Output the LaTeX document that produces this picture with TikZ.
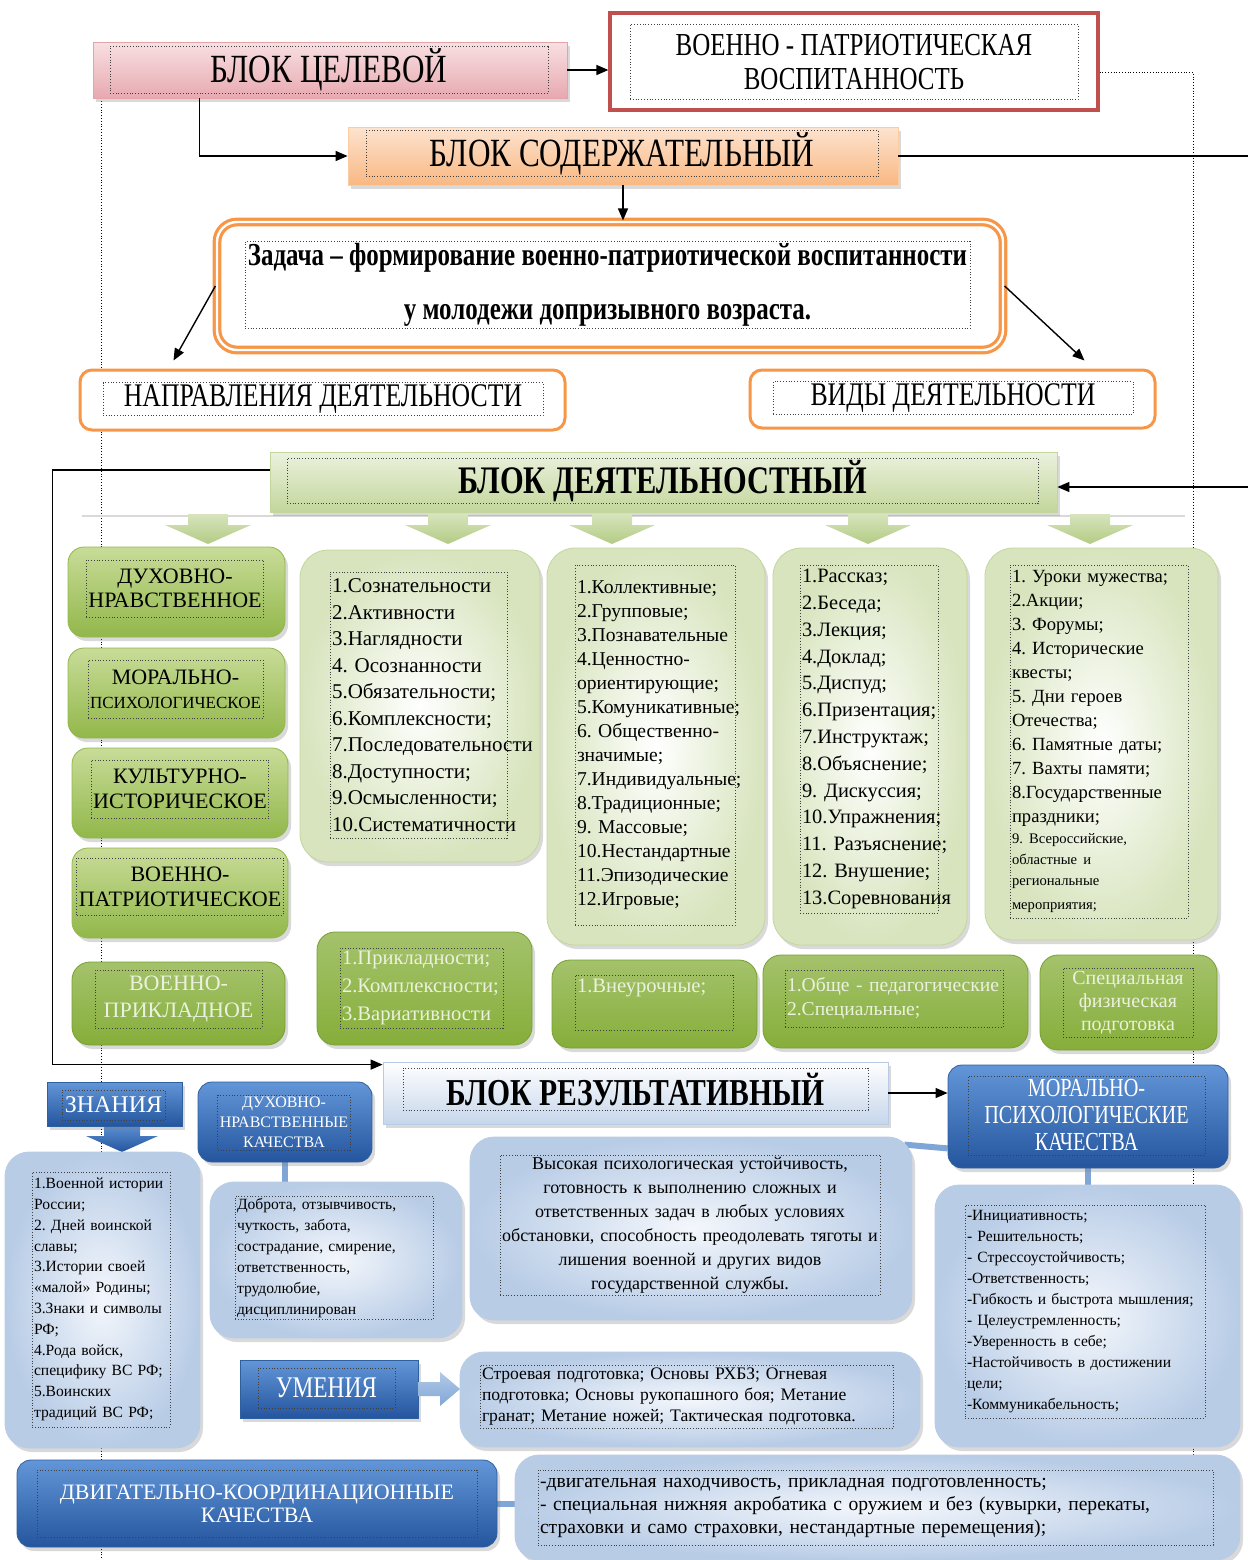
\documentclass[tikz,border=0pt]{standalone}
\usepackage{fontspec}
\setmainfont{Liberation Serif}
\newfontfamily\narrowfont[FakeStretch=0.78]{Liberation Serif}
\usetikzlibrary{arrows, arrows.meta}
\usetikzlibrary{calc}
\usetikzlibrary{shadows}
\usetikzlibrary{backgrounds}

\newcommand{\setfs}[2]{\fontsize{#1}{#2}\selectfont}

\definecolor{pinktop}{HTML}{F8E0E2}
\definecolor{pinkbot}{HTML}{E7A9B0}
\definecolor{pinkline}{HTML}{E3A3AA}
\definecolor{redline}{HTML}{C0504D}
\definecolor{orangeline}{HTML}{F79646}
\definecolor{orangetop}{HTML}{FDE3CF}
\definecolor{orangebot}{HTML}{F9B882}
\definecolor{greenpale}{HTML}{EBF1DE}
\definecolor{greenlight}{HTML}{D7E4BD}
\definecolor{greenmid}{HTML}{B3CB84}
\definecolor{greenline}{HTML}{C3D69B}
\definecolor{greentop}{HTML}{C8DC98}
\definecolor{greenbot}{HTML}{92B74A}
\definecolor{greendark}{HTML}{86AE3A}
\definecolor{greendeep}{HTML}{76A030}
\definecolor{bluetop}{HTML}{6396D8}
\definecolor{bluebot}{HTML}{24559E}
\definecolor{blueline}{HTML}{2E5F9F}
\definecolor{bluepale}{HTML}{F4F7FC}
\definecolor{bluelight}{HTML}{B8CCE6}
\definecolor{bluebar}{HTML}{7FA6D6}

\begin{document}
\frenchspacing
\begin{tikzpicture}[x=0.5pt, y=-0.5pt,
    txtframe/.style={draw=black!75, densely dotted, line width=0.4pt, inner sep=1pt},
    softshadow/.style={drop shadow={opacity=0.3, shadow xshift=1.5pt, shadow yshift=-2pt}},
    goalbox/.style={draw=pinkline, top color=pinktop, bottom color=pinkbot, softshadow},
    redbox/.style={draw=redline, line width=1.6pt, fill=white},
    orgbox/.style={draw=orangeline!50, top color=orangetop, bottom color=orangebot, softshadow},
    taskbox/.style={rounded corners=10pt, draw=orangeline, line width=1.6pt, double=white, double distance=1.2pt, fill=white},
    dirbox/.style={rounded corners=6pt, draw=orangeline, line width=1.5pt, fill=white},
    actbox/.style={draw=greenline, top color=greenpale, bottom color=greenline, softshadow},
    leafbox/.style={rounded corners=8pt, draw=greenbot, top color=greentop, bottom color=greenbot, softshadow},
    listbox/.style={rounded corners=14pt, draw=greenline, inner color=white, outer color=greenlight, softshadow},
    deepbox/.style={rounded corners=9pt, draw=greendeep, top color=greendark!75, bottom color=greendark, softshadow},
    resbox/.style={draw=bluelight, top color=white, bottom color=bluelight!80, softshadow},
    bluebox/.style={rounded corners=7pt, draw=blueline, top color=bluetop, bottom color=bluebot, softshadow},
    flagbox/.style={draw=blueline, top color=bluetop, bottom color=bluebot, softshadow},
    paleblue/.style={rounded corners=12pt, draw=bluelight, inner color=bluepale, outer color=bluelight, softshadow},
    arr/.style={-{Triangle[length=6pt, width=5pt]}, line width=0.7pt},
    linkbar/.style={draw=bluebar, line width=3pt}]

  \useasboundingbox (0,0) rectangle (1248,1560);

  % --- target block
  \node[goalbox, minimum width=237pt, minimum height=28pt] (goal) at (330,70) {};
  \node[txtframe, minimum width=219pt, minimum height=18pt, font=\narrowfont\setfs{20}{22}] (goaltxt) at (329,70) {БЛОК ЦЕЛЕВОЙ};
  \node[redbox, minimum width=244pt, minimum height=48.5pt] (patr) at (854,61.5) {};
  \node[txtframe, minimum width=224pt, minimum height=37.5pt, align=center, font=\narrowfont\setfs{16}{17}] (patrtxt) at (854,62) {ВОЕННО - ПАТРИОТИЧЕСКАЯ\\ВОСПИТАННОСТЬ};

  % --- content block
  \node[orgbox, minimum width=275pt, minimum height=29pt] (content) at (623,156) {};
  \node[txtframe, minimum width=256pt, minimum height=18.5pt, font=\narrowfont\setfs{20}{23}] (contenttxt) at (622,153.5) {БЛОК СОДЕРЖАТЕЛЬНЫЙ};
  \node[taskbox, minimum width=393pt, minimum height=64pt] (task) at (610,286) {};
  \node[txtframe, minimum width=362.5pt, minimum height=42pt, align=center, font=\narrowfont\bfseries\setfs{16}{27}] (tasktxt) at (607.5,285) {Задача – формирование военно-патриотической воспитанности\\у молодежи допризывного возраста.};
  \node[dirbox, minimum width=242.5pt, minimum height=30pt] (dirs) at (322.5,400) {};
  \node[txtframe, minimum width=220pt, minimum height=16pt, font=\narrowfont\setfs{16.5}{18}] (dirstxt) at (323,399) {НАПРАВЛЕНИЯ ДЕЯТЕЛЬНОСТИ};
  \node[dirbox, minimum width=202.5pt, minimum height=29pt] (kinds) at (952.5,399) {};
  \node[txtframe, minimum width=180pt, minimum height=15pt, font=\narrowfont\setfs{16.5}{18}] (kindstxt) at (953,398) {ВИДЫ ДЕЯТЕЛЬНОСТИ};

  % --- activity block
  \draw[gray!30, line width=1pt] (82,516) -- (1185,516);
  \node[actbox, minimum width=393.5pt, minimum height=30pt] (act) at (663.5,482) {};
  \node[txtframe, minimum width=375.5pt, minimum height=19pt, font=\narrowfont\bfseries\setfs{19.5}{22}] (acttxt) at (662.5,481) {БЛОК ДЕЯТЕЛЬНОСТНЫЙ};
  \foreach \ax in {208,448,612,868,1090}
    \shade[top color=greenlight, bottom color=greenmid] (\ax-20,514) -- (\ax+20,514) -- (\ax+20,525) -- (\ax+43,525) -- (\ax,544) -- (\ax-43,525) -- (\ax-20,525) -- cycle;

  \node[leafbox, minimum width=108.5pt, minimum height=45pt] (spir) at (176.5,592) {};
  \node[txtframe, minimum width=85pt, minimum height=28.5pt, align=center, font=\setfs{11}{12}] (spirtxt) at (175,588.5) {ДУХОВНО-\\НРАВСТВЕННОЕ};
  \node[leafbox, minimum width=108.5pt, minimum height=45pt] (moral) at (176.5,693) {};
  \node[txtframe, minimum width=82.5pt, minimum height=29pt, align=center, font=\setfs{11}{12}] (moraltxt) at (175.5,689) {МОРАЛЬНО-\\{\setfs{8.5}{10}ПСИХОЛОГИЧЕСКОЕ}};
  \node[leafbox, minimum width=108pt, minimum height=45pt] (cult) at (180,793) {};
  \node[txtframe, minimum width=85pt, minimum height=29pt, align=center, font=\setfs{11}{12.5}] (culttxt) at (180,789) {КУЛЬТУРНО-\\ИСТОРИЧЕСКОЕ};
  \node[leafbox, minimum width=108pt, minimum height=45pt] (mil) at (180,893) {};
  \node[txtframe, minimum width=85pt, minimum height=28.5pt, align=center, font=\setfs{11}{12.5}] (miltxt) at (180,886.5) {ВОЕННО-\\ПАТРИОТИЧЕСКОЕ};
  \node[deepbox, minimum width=106.5pt, minimum height=41.5pt] (appl) at (178.5,1003.5) {};
  \node[txtframe, minimum width=83.5pt, minimum height=29pt, align=center, text=greenpale, font=\setfs{11}{13.5}] (appltxt) at (178.5,999) {ВОЕННО-\\ПРИКЛАДНОЕ};

  \node[listbox, minimum width=120pt, minimum height=156pt] (princ) at (420,706) {};
  \node[txtframe, text width=86.5pt, minimum height=133pt, align=left, font=\setfs{10.5}{13.25}] (princtxt) at (418.5,705) {1.Сознательности\\2.Активности\\3.Наглядности\\4. Осознанности\\5.Обязательности;\\6.Комплексности;\\7.Последовательности\\8.Доступности;\\9.Осмысленности;\\10.Систематичности};
  \node[listbox, minimum width=109pt, minimum height=198.5pt] (forms) at (656,746.5) {};
  \node[txtframe, text width=78pt, minimum height=180pt, align=left, font=\setfs{9.8}{12}] (formstxt) at (655,745) {1.Коллективные;\\2.Групповые;\\3.Познавательные\\4.Ценностно-\\ориентирующие;\\5.Комуникативные;\\6. Общественно-\\значимые;\\7.Индивидуальные;\\8.Традиционные;\\9. Массовые;\\10.Нестандартные\\11.Эпизодические\\12.Игровые;};
  \node[listbox, minimum width=97pt, minimum height=198.5pt] (meth) at (870,746.5) {};
  \node[txtframe, text width=67pt, minimum height=174pt, align=left, font=\setfs{10.2}{13.4}] (methtxt) at (869,739) {1.Рассказ;\\2.Беседа;\\3.Лекция;\\4.Доклад;\\5.Диспуд;\\6.Призентация;\\7.Инструктаж;\\8.Объяснение;\\9. Дискуссия;\\10.Упражнения;\\11.~Разъяснение;\\12. Внушение;\\13.Соревнования};
  \node[listbox, minimum width=116.5pt, minimum height=196pt] (events) at (1101.5,744) {};
  \node[txtframe, text width=87pt, minimum height=176.5pt, align=left, font=\setfs{9.3}{12}] (eventstxt) at (1099,741.5) {1. Уроки мужества;\\2.Акции;\\3. Форумы;\\4. Исторические\\квесты;\\5. Дни героев\\Отечества;\\6. Памятные даты;\\7. Вахты памяти;\\8.Государственные\\праздники;\par\setfs{7.3}{10.6}9. Всероссийские,\\областные и\\региональные\\мероприятия;};

  \node[deepbox, minimum width=107.5pt, minimum height=56.5pt] (applp) at (424.5,988.5) {};
  \node[txtframe, text width=79.5pt, minimum height=40pt, align=left, text=greenpale, font=\setfs{10.3}{14}] (applptxt) at (421.5,988) {1.Прикладности;\\2.Комплексности;\\3.Вариативности};
  \node[deepbox, minimum width=102.5pt, minimum height=44pt] (extra) at (654.5,1004) {};
  \node[txtframe, text width=77pt, minimum height=27.5pt, align=left, text=greenpale, font=\setfs{10.3}{13}] (extratxt) at (654,1002.5) {1.Внеурочные;\\ \strut};
  \node[deepbox, minimum width=132.5pt, minimum height=46.5pt] (gen) at (895.5,1001.5) {};
  \node[txtframe, text width=107pt, minimum height=28.5pt, align=left, text=greenpale, font=\setfs{9.8}{12}] (gentxt) at (894,998.5) {1.Обще - педагогические\\2.Специальные;};
  \node[deepbox, minimum width=88.5pt, minimum height=47.5pt] (spec) at (1128.5,1002.5) {};
  \node[txtframe, minimum width=65pt, minimum height=34.5pt, align=center, text=greenpale, font=\setfs{10}{11.5}] (spectxt) at (1128,1002.5) {Специальная\\физическая\\подготовка};

  % --- result block
  \node[resbox, minimum width=252.5pt, minimum height=31pt] (res) at (635.5,1093) {};
  \node[txtframe, minimum width=232.5pt, minimum height=21pt, font=\narrowfont\bfseries\setfs{19}{22}] (restxt) at (635.5,1089) {БЛОК РЕЗУЛЬТАТИВНЫЙ};
  \node[bluebox, minimum width=140pt, minimum height=51.5pt] (mpq) at (1088,1116.5) {};
  \node[txtframe, minimum width=118.5pt, minimum height=39.5pt, align=center, text=white, font=\narrowfont\setfs{13}{13.5}] (mpqtxt) at (1086.5,1115.5) {МОРАЛЬНО-\\ПСИХОЛОГИЧЕСКИЕ\\КАЧЕСТВА};
  \node[paleblue, minimum width=221pt, minimum height=91.5pt] (high) at (691,1228.5) {};
  \node[txtframe, text width=188pt, minimum height=70pt, align=center, font=\setfs{9}{12}] (hightxt) at (690,1225) {Высокая психологическая устойчивость,\\готовность к выполнению сложных и\\ответственных задач в любых условиях\\обстановки, способность преодолевать тяготы и\\лишения военной и других видов\\государственной службы.};
  \node[paleblue, minimum width=152.5pt, minimum height=131pt] (qual) at (1087.5,1316) {};
  \node[txtframe, text width=118pt, minimum height=106.5pt, align=left, font=\setfs{7.8}{10.5}] (qualtxt) at (1085,1311.5) {-Инициативность;\\- Решительность;\\- Стрессоустойчивость;\\-Ответственность;\\-Гибкость и быстрота мышления;\\- Целеустремленность;\\-Уверенность в себе;\\-Настойчивость в достижении\\цели;\\-Коммуникабельность;};

  \shade[top color=bluetop, bottom color=bluebot] (104,1122) -- (140,1122) -- (140,1136) -- (158,1136) -- (122,1152) -- (86,1136) -- (104,1136) -- cycle;
  \node[flagbox, minimum width=67.5pt, minimum height=22pt] (know) at (114.5,1104) {};
  \node[txtframe, minimum width=51.5pt, minimum height=15pt, text=white, font=\setfs{12}{14}] (knowtxt) at (113.5,1105) {ЗНАНИЯ};
  \node[paleblue, minimum width=97.5pt, minimum height=148pt] (knowlist) at (102.5,1300) {};
  \node[txtframe, text width=67pt, minimum height=127.5pt, align=left, font=\setfs{7.8}{10.4}] (knowlisttxt) at (101,1299.5) {1.Военной истории\\России;\\2. Дней воинской\\славы;\\3.Истории своей\\«малой» Родины;\\3.Знаки и символы\\РФ;\\4.Рода войск,\\специфику ВС РФ;\\5.Воинских\\традиций ВС РФ;};
  \node[bluebox, minimum width=87pt, minimum height=40pt] (dnq) at (285,1122) {};
  \node[txtframe, minimum width=66pt, minimum height=27.5pt, align=center, text=white, font=\setfs{8}{10}] (dnqtxt) at (284,1122.5) {ДУХОВНО-\\НРАВСТВЕННЫЕ\\КАЧЕСТВА};
  \node[paleblue, minimum width=126pt, minimum height=78pt] (dobr) at (336,1260) {};
  \node[txtframe, text width=97pt, minimum height=60pt, align=left, font=\setfs{7.8}{10.5}] (dobrtxt) at (334,1258) {Доброта, отзывчивость,\\чуткость, забота,\\сострадание, смирение,\\ответственность,\\трудолюбие,\\дисциплинирован};
  \node[flagbox, minimum width=89pt, minimum height=29pt] (skill) at (329,1389) {};
  \node[txtframe, minimum width=68.5pt, minimum height=20pt, text=white, font=\narrowfont\setfs{15}{17}] (skilltxt) at (326.5,1388) {УМЕНИЯ};
  \node[paleblue, minimum width=230pt, minimum height=47.5pt] (drill) at (690,1399.5) {};
  \node[txtframe, text width=204.5pt, minimum height=31.5pt, align=left, font=\setfs{8.8}{10.5}] (drilltxt) at (686.5,1396.5) {Строевая подготовка; Основы РХБЗ; Огневая\\подготовка; Основы рукопашного боя; Метание\\гранат; Метание ножей; Тактическая подготовка.};
  \shade[top color=bluebar!60, bottom color=bluebar] (418,1382) -- (440,1382) -- (440,1372) -- (460,1389) -- (440,1406) -- (440,1396) -- (418,1396) -- cycle;
  \node[bluebox, minimum width=240pt, minimum height=43.5pt] (motor) at (257,1503.5) {};
  \node[txtframe, minimum width=220pt, minimum height=33.5pt, align=center, text=white, font=\setfs{11}{11.5}] (motortxt) at (257,1503.5) {ДВИГАТЕЛЬНО-КООРДИНАЦИОННЫЕ\\КАЧЕСТВА};
  \node[paleblue, minimum width=362.5pt, minimum height=52.5pt] (motlist) at (877.5,1507.5) {};
  \node[txtframe, text width=335.5pt, minimum height=37.5pt, align=left, font=\setfs{9.8}{11.5}] (motlisttxt) at (875.5,1507.5) {-двигательная находчивость, прикладная подготовленность;\\- специальная нижняя акробатика с оружием и без (кувырки, перекаты,\\страховки и само страховки, нестандартные перемещения);};

  % --- connectors
  \coordinate (edgeA) at (1248,155);
  \coordinate (edgeB) at (1248,487);
  \draw[arr] (goal.east) -- (goal.east -| patr.west);
  \draw[arr] ([xshift=53.5pt]goal.south west) |- (content.west);
  \draw[line width=0.7pt] (content.east) -- (content.east -| edgeA);
  \draw[arr] (content.south) -- (content.south |- task.north);
  \draw[arr] (task.west) -- ([xshift=47.5pt, yshift=4pt]dirs.north west);
  \draw[arr] (task.east) -- ([xshift=-36pt, yshift=4pt]kinds.north east);
  \draw[arr] (edgeB) -- (edgeB -| act.east);
  \draw[arr] ([yshift=6pt]act.west) -- ++(-217,0) |- ([yshift=-1.5pt]res.north west);
  \draw[arr] (res.east) -- (res.east -| mpq.west);

  \begin{pgfonlayer}{background}
    \draw[densely dotted, line width=0.4pt] ([xshift=4.5pt]goal.south west) -- ++(0,1462);
    \draw[densely dotted, line width=0.4pt] ([yshift=-5.5pt]patr.east) -- ++(94,0) -- ++(0,1487);
    \draw[linkbar] ([yshift=10pt]mpq.south west) -- ([xshift=-4pt, yshift=-4pt]high.north east);
    \draw[linkbar] (mpq.south) -- (mpq.south |- qual.north);
    \draw[linkbar] (dnq.south) -- (dnq.south |- dobr.north);
    \draw[linkbar] (motor.east) -- (motor.east -| motlist.west);
  \end{pgfonlayer}
\end{tikzpicture}
\end{document}
